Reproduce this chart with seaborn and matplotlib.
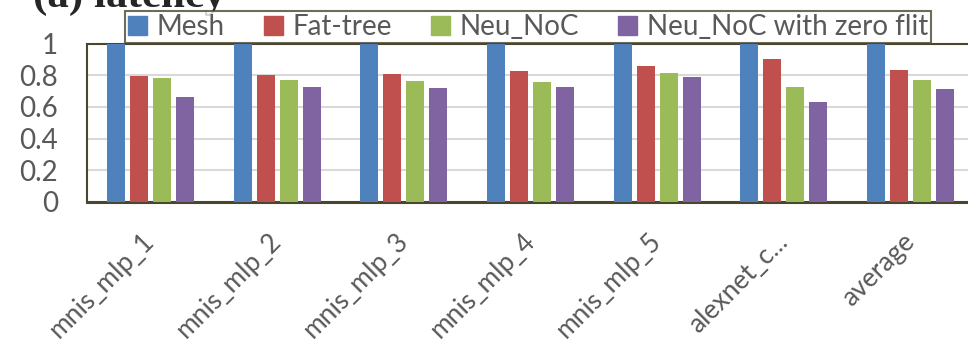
import numpy as np
import pandas as pd
import matplotlib
matplotlib.use('Agg')
import matplotlib.pyplot as plt
import seaborn as sns

benchmarks = ['mnis_mlp_1', 'mnis_mlp_2', 'mnis_mlp_3', 'mnis_mlp_4',
              'mnis_mlp_5', 'alexnet_c...', 'average']
networks = ['Mesh', 'Fat-tree', 'Neu_NoC', 'Neu_NoC with zero flit']

mesh = [1.0, 1.0, 1.0, 1.0, 1.0, 1.0, 1.0]
fat_tree = [0.797, 0.800, 0.808, 0.827, 0.857, 0.901, 0.834]
neu_noc = [0.781, 0.770, 0.764, 0.756, 0.813, 0.726, 0.768]
neu_noc_zero = [0.665, 0.724, 0.718, 0.726, 0.787, 0.631, 0.715]

colors = ['#4F81BD', '#C0504D', '#9BBB59', '#8064A2']

#%% long table for seaborn
rows = []
for net, vals in zip(networks, [mesh, fat_tree, neu_noc, neu_noc_zero]):
    for b, v in zip(benchmarks, vals):
        rows.append({'benchmark': b, 'network': net, 'latency': v})
df = pd.DataFrame(rows)

sns.set_style('white')
plt.rcParams['font.family'] = ['Lato', 'DejaVu Sans']

fig = plt.figure(figsize=(9.68, 3.56), dpi=100)
ax = fig.add_axes([0.0899, 0.4334, 0.9163, 0.4436])

sns.barplot(data=df, x='benchmark', y='latency', hue='network',
            order=benchmarks, hue_order=networks, palette=colors,
            width=0.726, gap=0.22, linewidth=0, saturation=1,
            errorbar=None, ax=ax, zorder=3)

ax.set_xlim(-0.5, 6.5)
ax.set_ylim(0, 1)
ax.set_yticks(np.arange(0, 1.01, 0.2))
ax.set_yticklabels(['0', '0.2', '0.4', '0.6', '0.8', '1'])
ax.yaxis.grid(True, color='#d9d9d9', linewidth=1.5, zorder=0)
ax.set_axisbelow(True)
ax.set_xlabel('')
ax.set_ylabel('')

frame = '#4a4630'
for s in ax.spines.values():
    s.set_color(frame)
    s.set_linewidth(1.5)
ax.spines['bottom'].set_linewidth(2.2)

ax.tick_params(axis='both', length=0, labelsize=20, labelcolor='#595959')
ax.tick_params(axis='y', pad=21)
ax.tick_params(axis='x', pad=26, labelsize=19)
for lab in ax.get_xticklabels():
    lab.set_rotation(45)
    lab.set_ha('right')
    lab.set_va('center')
    lab.set_rotation_mode('anchor')

ax.get_legend().remove()
handles = [plt.Rectangle((0, 0), 1, 1, color=c) for c in colors]
leg = fig.legend(handles, networks, loc='lower left', ncol=4,
                 bbox_to_anchor=(125 / 968, 1 - 43 / 356, 806 / 968, 34 / 356),
                 mode='expand', frameon=True, fancybox=False,
                 fontsize=20, handlelength=0.7, handleheight=0.7,
                 handletextpad=0.35, columnspacing=1.0, borderpad=0.1,
                 borderaxespad=0)
leg.get_frame().set_edgecolor(frame)
leg.get_frame().set_linewidth(1.5)
for t in leg.get_texts():
    t.set_color('#595959')

fig.text(33 / 968, 1 - 7 / 356, '(a) latency', family='Liberation Serif',
         fontweight='bold', fontsize=31, ha='left', va='baseline')

fig.savefig('out.png', dpi=100)
